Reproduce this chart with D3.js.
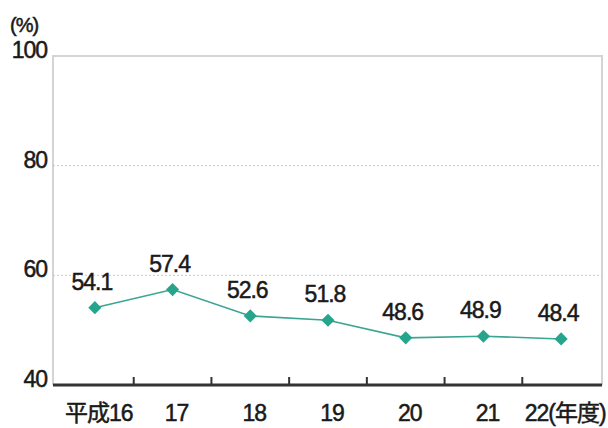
<!DOCTYPE html>
<html>
<head>
<meta charset="UTF-8">
<title>推移</title>
<script src="https://d3js.org/d3.v7.min.js"></script>
<style>
    body {margin:0; background:#fff;}
    text {font-family:"Liberation Sans Narrow","Arial Narrow","Liberation Sans",sans-serif; fill:#1a1a1a; stroke:#1a1a1a; stroke-width:0.5px; letter-spacing:-1px;}
    .cat {font-family:"Liberation Sans Narrow","Liberation Sans","Noto Sans CJK JP",sans-serif;}
</style>
</head>
<body>
<div id="chart"></div>
<script>
    // 年度ごとの値 (%)
    var years = ["平成16", "17", "18", "19", "20", "21", "22(年度)"];
    var values = [54.1, 57.4, 52.6, 51.8, 48.6, 48.9, 48.4];
    var yTicks = [40, 60, 80, 100];

    var W = 608, H = 428;
    var plotLeft = 53, plotRight = 602, plotTop = 56, plotBottom = 385;

    var svg = d3.select("#chart").append("svg")
        .attr("width", W)
        .attr("height", H);

    var x = d3.scaleBand()
        .domain(years)
        .range([56, 600]);

    var y = d3.scaleLinear()
        .domain([40, 100])
        .range([plotBottom, plotTop]);

    // frame (left, top, right)
    svg.append("path")
        .attr("d", "M" + plotLeft + "," + plotBottom + "V" + plotTop + "H" + plotRight + "V" + plotBottom)
        .attr("fill", "none")
        .attr("stroke", "#d4d4d4")
        .attr("stroke-width", 2);

    // dotted gridlines
    svg.selectAll(".grid")
        .data(yTicks.filter(function(d) {return d > 40 && d < 100}))
        .enter().append("line")
        .attr("x1", plotLeft).attr("x2", plotRight)
        .attr("y1", function(d) {return y(d)})
        .attr("y2", function(d) {return y(d)})
        .attr("stroke", "#c8c8c8")
        .attr("stroke-dasharray", "2,2");

    // y labels
    svg.selectAll(".ylab")
        .data(yTicks)
        .enter().append("text")
        .attr("x", 47)
        .attr("y", function(d) {return y(d) + 2})
        .attr("text-anchor", "end")
        .attr("font-size", 23)
        .text(function(d) {return d});

    svg.append("text")
        .attr("x", 10).attr("y", 32)
        .attr("font-size", 20)
        .text("(%)");

    // bottom axis
    svg.append("line")
        .attr("x1", plotLeft).attr("x2", plotRight)
        .attr("y1", plotBottom).attr("y2", plotBottom)
        .attr("stroke", "#333")
        .attr("stroke-width", 3);

    // ticks between categories
    svg.selectAll(".tick")
        .data(years.slice(1))
        .enter().append("line")
        .attr("x1", function(d) {return x(d)})
        .attr("x2", function(d) {return x(d)})
        .attr("y1", plotBottom - 8).attr("y2", plotBottom)
        .attr("stroke", "#333")
        .attr("stroke-width", 2);

    // category labels
    svg.selectAll(".cat")
        .data(years)
        .enter().append("text")
        .attr("class", "cat")
        .attr("x", function(d) {return x(d) + x.bandwidth()/2 + 4})
        .attr("y", 421)
        .attr("text-anchor", "middle")
        .attr("font-size", 23)
        .text(function(d) {return d});

    var cx = function(d, i) {return x(years[i]) + x.bandwidth()/2};

    var line = d3.line()
        .x(function(d, i) {return cx(d, i)})
        .y(function(d) {return y(d)});

    svg.append("path")
        .datum(values)
        .attr("d", line)
        .attr("fill", "none")
        .attr("stroke", "#3aa593")
        .attr("stroke-width", 1.6);

    svg.selectAll(".pt")
        .data(values)
        .enter().append("path")
        .attr("d", d3.symbol().type(d3.symbolDiamond2).size(110))
        .attr("transform", function(d, i) {return "translate(" + cx(d, i) + "," + y(d) + ")"})
        .attr("fill", "#24a58c");

    svg.selectAll(".val")
        .data(values)
        .enter().append("text")
        .attr("x", function(d, i) {return cx(d, i) - 3})
        .attr("y", function(d) {return y(d) - 18})
        .attr("text-anchor", "middle")
        .attr("font-size", 23)
        .text(function(d) {return d.toFixed(1)});
</script>
</body>
</html>
